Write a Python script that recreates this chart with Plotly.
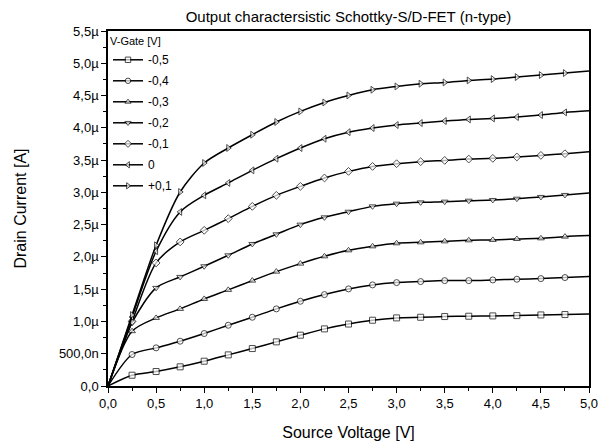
import plotly.graph_objects as go

# Source voltage [V]
source_voltage = [0.0, 0.25, 0.5, 0.75, 1.0, 1.25, 1.5, 1.75, 2.0, 2.25, 2.5,
                  2.75, 3.0, 3.25, 3.5, 3.75, 4.0, 4.25, 4.5, 4.75, 5.0]

# Drain current [µA] per gate voltage
i_m05 = [0, 0.167, 0.224, 0.297, 0.384, 0.482, 0.580, 0.684, 0.787, 0.885, 0.960,
         1.019, 1.055, 1.065, 1.076, 1.081, 1.086, 1.091, 1.101, 1.107, 1.117]
i_m04 = [0, 0.488, 0.591, 0.694, 0.813, 0.941, 1.065, 1.195, 1.313, 1.416, 1.504,
         1.566, 1.602, 1.618, 1.633, 1.633, 1.643, 1.654, 1.664, 1.680, 1.695]
i_m03 = [0, 0.849, 1.055, 1.195, 1.349, 1.489, 1.633, 1.772, 1.896, 2.009, 2.102,
         2.164, 2.211, 2.226, 2.241, 2.257, 2.263, 2.278, 2.288, 2.314, 2.330]
i_m02 = [0, 0.980, 1.520, 1.690, 1.855, 2.025, 2.201, 2.350, 2.500, 2.613, 2.700,
         2.783, 2.825, 2.845, 2.856, 2.871, 2.882, 2.902, 2.929, 2.960, 2.990]
i_m01 = [0, 1.000, 1.907, 2.232, 2.412, 2.593, 2.783, 2.954, 3.093, 3.223, 3.325,
         3.402, 3.444, 3.475, 3.495, 3.516, 3.527, 3.548, 3.573, 3.599, 3.630]
i_00 = [0, 1.070, 2.087, 2.697, 2.954, 3.146, 3.341, 3.522, 3.687, 3.831, 3.932,
        3.997, 4.043, 4.074, 4.105, 4.130, 4.146, 4.167, 4.198, 4.239, 4.265]
i_p01 = [0, 1.100, 2.180, 3.006, 3.455, 3.687, 3.893, 4.090, 4.254, 4.393, 4.502,
         4.590, 4.641, 4.683, 4.703, 4.734, 4.755, 4.786, 4.817, 4.848, 4.879]

gate_labels = ["-0,5", "-0,4", "-0,3", "-0,2", "-0,1", "0", "+0,1"]
series = [i_m05, i_m04, i_m03, i_m02, i_m01, i_00, i_p01]
symbols = ["square", "circle", "triangle-up", "triangle-down",
           "diamond", "triangle-left", "triangle-right"]

x_tickvals = [0, 0.5, 1.0, 1.5, 2.0, 2.5, 3.0, 3.5, 4.0, 4.5, 5.0]
x_ticktext = ["0,0", "0,5", "1,0", "1,5", "2,0", "2,5", "3,0", "3,5", "4,0", "4,5", "5,0"]
y_tickvals_u = [0, 0.5, 1.0, 1.5, 2.0, 2.5, 3.0, 3.5, 4.0, 4.5, 5.0, 5.5]
y_ticktext = ["0,0", "500,0n", "1,0µ", "1,5µ", "2,0µ", "2,5µ", "3,0µ", "3,5µ",
              "4,0µ", "4,5µ", "5,0µ", "5,5µ"]

FONT = "Liberation Sans, Arial, sans-serif"

fig = go.Figure()
n = len(source_voltage)
sizes = [0] + [6] * (n - 2) + [0]
for k, (lab, vals, sym) in enumerate(zip(gate_labels, series, symbols)):
    fig.add_trace(go.Scatter(
        x=source_voltage, y=[v * 1e-6 for v in vals], name=lab,
        legendgroup="g%d" % k,
        mode="lines+markers",
        line=dict(color="black", width=1.5, shape="spline", smoothing=0.8),
        marker=dict(symbol=sym, size=sizes, color="white",
                    line=dict(color="black", width=1)),
    ))

axis_common = dict(showline=True, linecolor="black", linewidth=1.5, mirror=True,
                   ticks="outside", ticklen=5, tickwidth=1, tickcolor="black",
                   showgrid=False, zeroline=False, automargin=False,
                   tickfont=dict(family=FONT, size=13, color="black"))

fig.update_xaxes(range=[0, 5], tickvals=x_tickvals, ticktext=x_ticktext,
                 minor=dict(ticks="outside", ticklen=3, dtick=0.25, tickcolor="black"),
                 title=dict(text="Source Voltage [V]", standoff=16,
                            font=dict(family=FONT, size=16, color="black")),
                 **axis_common)
fig.update_yaxes(range=[0, 5.5e-6], tickvals=[v * 1e-6 for v in y_tickvals_u],
                 ticktext=y_ticktext,
                 minor=dict(ticks="outside", ticklen=3, dtick=0.25e-6, tickcolor="black"),
                 title=dict(text="Drain Current [A]", standoff=28,
                            font=dict(family=FONT, size=16, color="black")),
                 **axis_common)

fig.update_layout(
    width=609, height=445,
    margin=dict(l=108, r=20, t=31, b=59),
    paper_bgcolor="white", plot_bgcolor="white",
    font=dict(family=FONT, color="black"),
    title=dict(text="Output charactersistic Schottky-S/D-FET (n-type)",
               x=(108 + 240.5) / 609, xanchor="center", y=1 - 17 / 445, yanchor="middle",
               font=dict(size=15, color="black")),
    legend=dict(x=0.0, y=1.0, xanchor="left", yanchor="top",
                bgcolor="rgba(0,0,0,0)", borderwidth=0,
                font=dict(size=12, color="black"),
                title=dict(text="V-Gate [V]", font=dict(size=11, color="black")),
                traceorder="grouped", tracegroupgap=2),
    showlegend=True,
)

# remove the default 8px page margin so the figure fills the window exactly
fig.write_html("out.html", config={"displayModeBar": False},
               post_script="document.body.style.margin='0';")
